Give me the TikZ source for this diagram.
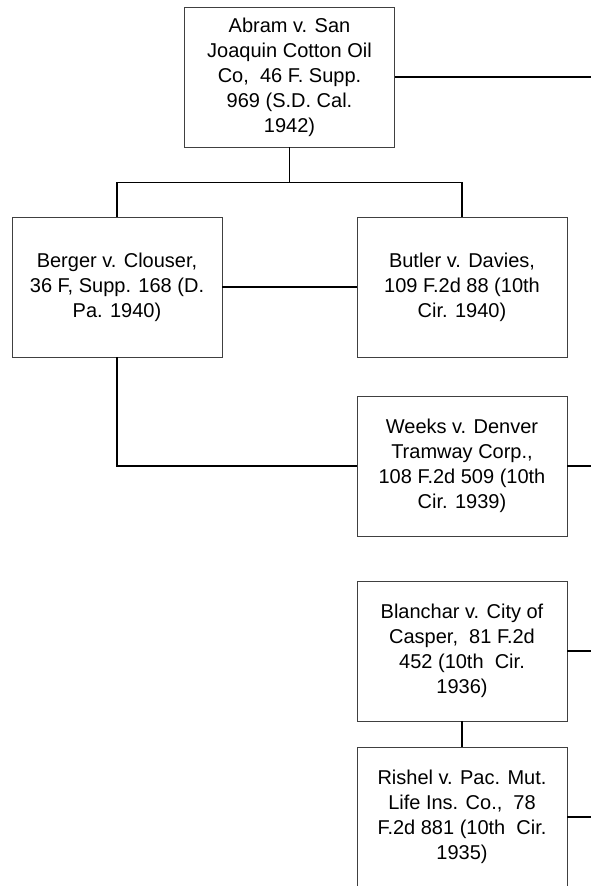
\documentclass[tikz,border=0pt]{standalone}
\usepackage{fontspec}
\setmainfont{Liberation Sans}
\usepackage{xcolor}
\definecolor{boxlinecolor}{gray}{0.25}

\begin{document}
\begin{tikzpicture}[x=1pt,y=-1pt,
    casebox/.style={draw=boxlinecolor,line width=0.8pt,fill=white,
        minimum width=210pt,minimum height=140pt,inner sep=0pt,
        align=center,font=\fontsize{20}{25}\selectfont},
    link/.style={line width=1.5pt}]
    \useasboundingbox (0,0) rectangle (591,886);
    \node [casebox] (abram) at (289.5,77)
        {Abram v. San\\Joaquin Cotton Oil\\Co,~ 46 F. Supp.\\969 (S.D. Cal.\\1942)};
    \node [casebox] (berger) at (117,287)
        {Berger v. Clouser,\\36 F, Supp. 168 (D.\\Pa. 1940)};
    \node [casebox] (butler) at (462,287)
        {Butler v. Davies,\\109 F.2d 88 (10th\\Cir. 1940)};
    \node [casebox] (weeks) at (462,466)
        {Weeks v. Denver\\Tramway Corp.,\\108 F.2d 509 (10th\\Cir. 1939)};
    \node [casebox] (blanchar) at (462,651)
        {Blanchar v. City of\\Casper,~ 81 F.2d\\452 (10th~ Cir.\\1936)};
    \node [casebox] (rishel) at (462,817)
        {Rishel v. Pac. Mut.\\Life Ins. Co.,~ 78\\F.2d 881 (10th~ Cir.\\1935)};
    \coordinate (abramout) at (591,77);
    \coordinate (weeksout) at (591,466);
    \coordinate (blancharout) at (591,651);
    \coordinate (rishelout) at (591,817);
    \draw [link] (abram.south) -- ++(0,35) coordinate (fork) -| (berger.north);
    \draw [link] (fork) -| (butler.north);
    \draw [link] (abram.east) -- (abramout);
    \draw [link] (berger.east) -- (butler.west);
    \draw [link] (berger.south) |- (weeks.west);
    \draw [link] (weeks.east) -- (weeksout);
    \draw [link] (blanchar.south) -- (rishel.north);
    \draw [link] (blanchar.east) -- (blancharout);
    \draw [link] (rishel.east) -- (rishelout);
\end{tikzpicture}
\end{document}
